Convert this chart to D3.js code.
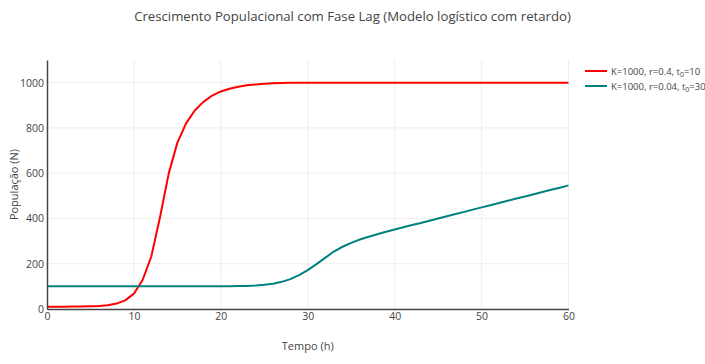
<!DOCTYPE html>
<html>
<head>
<meta charset="utf-8">
<script src="https://cdn.jsdelivr.net/npm/d3@7"></script>
<style>
  html, body { margin: 0; padding: 0; background: #fff; }
  svg { display: block; font-family: "Open Sans", verdana, arial, sans-serif; }
</style>
</head>
<body>
<div id="chart"></div>
<script>
const title = "Crescimento Populacional com Fase Lag (Modelo logístico com retardo)";
const xTitle = "Tempo (h)";
const yTitle = "População (N)";
const times = d3.range(0, 61, 1);
const redValues = [10,10,10,10.5,11,12,13.5,17,24,38,68,128,232,405,598,735,820,877,915,943,961,973,982,988,992,995,997,998,999,999.5,
  1000,1000,1000,1000,1000,1000,1000,1000,1000,1000,1000,1000,1000,1000,1000,1000,1000,1000,1000,1000,1000,1000,1000,1000,1000,1000,1000,1000,1000,1000,1000];
const tealValues = [100,100,100,100,100,100,100,100,100,100.2,100.3,100.4,100.5,100.6,100.7,100.8,100.9,101,101,101,101,101,101.5,102,104,107,112,120,132,150,
  172,198,226,254,275,292,307,319,330,341,351,361,371,380,390,400,410,420,429,439,449,458,468,478,488,497,507,517,527,536,546];
const seriesNames = [["K=1000, r=0.4, t", "0", "=10"], ["K=1000, r=0.04, t", "0", "=30"]];
const seriesColors = ["#ff0000", "#008080"];
const xTicks = [0,10,20,30,40,50,60];
const yTicks = [0,200,400,600,800,1000];

const W = 705, H = 364;
const m = {l: 47, r: 705 - 568.5, t: 60, b: 364 - 309};
const svg = d3.select("#chart").append("svg").attr("width", W).attr("height", H);

const x = d3.scaleLinear().domain([0, 60]).range([m.l, W - m.r]);
const y = d3.scaleLinear().domain([0, 1100]).range([H - m.b, m.t]);

// gridlines
svg.append("g").selectAll("line").data(xTicks.filter(d => d > 0)).join("line")
  .attr("x1", d => x(d)).attr("x2", d => x(d))
  .attr("y1", y(0)).attr("y2", y(1100))
  .attr("stroke", "#eee").attr("stroke-width", 1);
svg.append("g").selectAll("line").data(yTicks.filter(d => d > 0)).join("line")
  .attr("x1", x(0)).attr("x2", x(60))
  .attr("y1", d => y(d)).attr("y2", d => y(d))
  .attr("stroke", "#eee").attr("stroke-width", 1);

// lines
const series = [redValues, tealValues];
const line = d3.line().x((d, i) => x(times[i])).y(d => y(d));
series.forEach((vals, k) => {
  svg.append("path").datum(vals).attr("d", line)
    .attr("fill", "none").attr("stroke", seriesColors[k]).attr("stroke-width", 2)
    .attr("stroke-linejoin", "round");
});

// axes
const xAxis = d3.axisBottom(x).tickValues(xTicks).tickFormat(d3.format("d")).tickSize(0).tickPadding(4);
const gx = svg.append("g").attr("transform", `translate(0,${y(0)})`).call(xAxis);
gx.select(".domain").attr("stroke", "#444").attr("stroke-width", 1.5);
gx.selectAll("text").attr("fill", "#444").style("font-size", "10.5px").style("font-family", '"Open Sans", verdana, arial, sans-serif');

const yAxis = d3.axisLeft(y).tickValues(yTicks).tickFormat(d3.format("d")).tickSize(0).tickPadding(3);
const gy = svg.append("g").attr("transform", `translate(${x(0)},0)`).call(yAxis);
gy.select(".domain").attr("stroke", "#444").attr("stroke-width", 1.5);
gy.selectAll("text").attr("fill", "#444").style("font-size", "10.5px").style("font-family", '"Open Sans", verdana, arial, sans-serif');

// titles
svg.append("text").attr("x", W / 2).attr("y", 21).attr("text-anchor", "middle")
  .attr("fill", "#444").style("font-size", "13.2px").text(title);
svg.append("text").attr("x", (x(0) + x(60)) / 2).attr("y", 350).attr("text-anchor", "middle")
  .attr("fill", "#444").style("font-size", "11px").text(xTitle);
svg.append("text").attr("transform", `translate(18,${(y(0) + y(1100)) / 2}) rotate(-90)`)
  .attr("text-anchor", "middle").attr("fill", "#444").style("font-size", "11px").text(yTitle);

// legend
const lg = svg.append("g");
seriesNames.forEach((parts, k) => {
  const yy = 71 + k * 15;
  lg.append("line").attr("x1", 585).attr("x2", 607).attr("y1", yy).attr("y2", yy)
    .attr("stroke", seriesColors[k]).attr("stroke-width", 2);
  const t = lg.append("text").attr("x", 611).attr("y", yy + 3.5).attr("fill", "#444").style("font-size", "9.5px");
  t.append("tspan").text(parts[0]);
  t.append("tspan").attr("dy", 2).style("font-size", "7px").text(parts[1]);
  t.append("tspan").attr("dy", -2).text(parts[2]);
});
</script>
</body>
</html>
